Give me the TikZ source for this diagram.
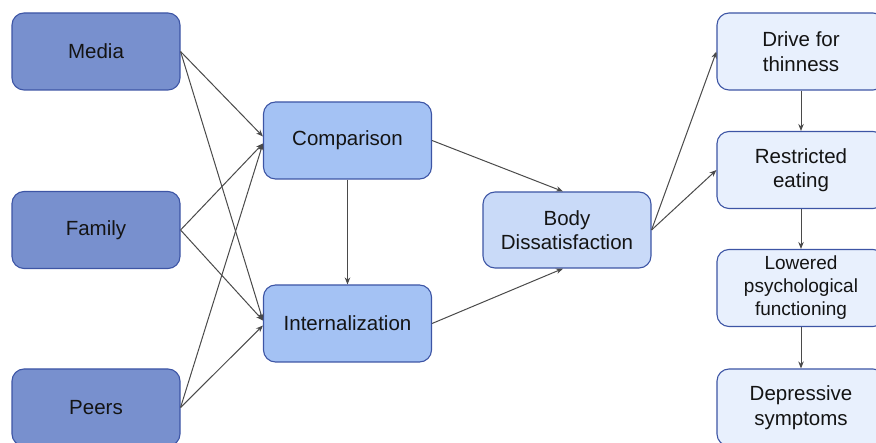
\documentclass[tikz,border=0pt]{standalone}
\usepackage{fontspec}
\setmainfont{Liberation Sans}
\usetikzlibrary{arrows.meta,calc}
\definecolor{leftfill}{HTML}{7890CE}
\definecolor{midfill}{HTML}{A4C2F4}
\definecolor{bodyfill}{HTML}{C9DAF8}
\definecolor{rightfill}{HTML}{E8F0FD}
\definecolor{bordercol}{HTML}{3D55A5}
\definecolor{arrowcol}{HTML}{4A4A4A}
\begin{document}
\begin{tikzpicture}[x=1pt,y=-1pt,
  box/.style={draw=bordercol, line width=1.1pt, rounded corners=12pt,
    minimum width=168pt, minimum height=77pt, align=center, inner sep=2pt,
    font=\fontsize{20.5}{24.5}\selectfont, text=black!92},
  leftbox/.style={box, fill=leftfill},
  midbox/.style={box, fill=midfill},
  bodybox/.style={box, fill=bodyfill, minimum height=76pt},
  rightbox/.style={box, fill=rightfill},
  arr/.style={draw=arrowcol, line width=1pt, -{Stealth[length=7pt,width=5.5pt]}}]
\useasboundingbox (0,0) rectangle (876,443);
\node[leftbox] (media) at (96,51.5) {Media};
\node[leftbox] (family) at (96,230) {Family};
\node[leftbox] (peers) at (96,407.5) {Peers};
\node[midbox] (comp) at (347.5,140.5) {Comparison};
\node[midbox] (intern) at (347.5,323.5) {Internalization};
\node[bodybox] (body) at (567,230) {Body\\Dissatisfaction};
\node[rightbox] (drive) at (801,51.5) {Drive for\\thinness};
\node[rightbox] (restr) at (801,170) {Restricted\\eating};
\node[rightbox, font=\fontsize{19}{23}\selectfont] (lower) at (801,288) {Lowered\\psychological\\functioning};
\node[rightbox] (depr) at (801,407.5) {Depressive\\symptoms};

\draw[arr] (media.east) -- ($(comp.west)+(0,-4)$);
\draw[arr] (media.east) -- ($(intern.west)+(0,-3)$);
\draw[arr] (family.east) -- ($(comp.west)+(0,3)$);
\draw[arr] (family.east) -- ($(intern.west)+(0,-3)$);
\draw[arr] (peers.east) -- ($(comp.west)+(0,3)$);
\draw[arr] (peers.east) -- ($(intern.west)+(0,2)$);
\draw[arr] (comp.south) -- (intern.north);
\draw[arr] (comp.east) -- ($(body.north)+(-4,0)$);
\draw[arr] (intern.east) -- ($(body.south)+(-4,0)$);
\draw[arr] (body.east) -- (drive.west);
\draw[arr] (body.east) -- (restr.west);
\draw[arr] (drive.south) -- (restr.north);
\draw[arr] (restr.south) -- (lower.north);
\draw[arr] (lower.south) -- (depr.north);
\end{tikzpicture}
\end{document}
